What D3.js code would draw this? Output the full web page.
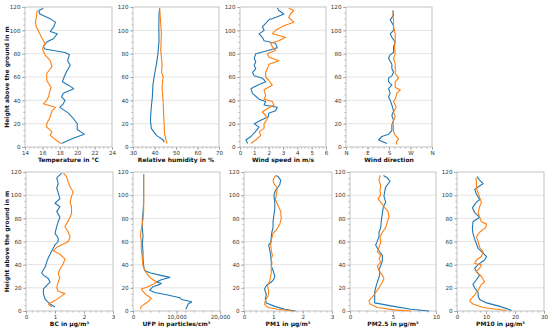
<!DOCTYPE html>
<html lang="en">
<head>
    <meta charset="UTF-8">
    <title>Vertical profiles</title>
    <script src="https://cdn.jsdelivr.net/npm/d3@7"></script>
    <style>
        body { margin: 0; background: #fff; }
        text { font-family: "DejaVu Sans", sans-serif; }
    </style>
</head>
<body>
<svg id="chart" width="550" height="333"></svg>
<script>
// each series: [height in m, value]
const tempA = [[3,18.2],[7,19.4],[11,20.8],[15,20.0],[20,20.0],[24,19.6],[29,19.0],[34,18.0],[37,18.4],[40,18.6],[43,18.2],[46,18.4],[50,19.6],[53,19.0],[56,18.3],[60,18.5],[65,18.8],[70,19.2],[74,18.9],[79,19.1],[81,18.6],[84,16.3],[86,16.1],[90,16.5],[93,17.3],[97,17.7],[99,16.9],[103,17.3],[107,17.5],[110,16.9],[114,15.7],[117,15.6],[119,16.1]];
const tempB = [[3,18.1],[7,17.4],[10,16.9],[13,17.1],[17,16.5],[20,16.5],[26,16.9],[31,17.1],[34,17.5],[37,16.1],[40,16.5],[43,16.7],[49,16.9],[51,17.0],[57,16.5],[63,16.5],[69,17.1],[74,16.9],[79,16.3],[84,16.0],[89,16.3],[94,15.9],[97,15.7],[103,15.3],[107,15.2],[111,15.3],[117,15.4]];

const rhA = [[4,44.5],[6,44.0],[10,40.9],[16,38.5],[23,38.1],[34,38.5],[43,39.0],[54,39.3],[63,40.1],[71,40.9],[80,41.6],[91,42.1],[103,42.0],[114,42.1],[119,42.4]];
const rhB = [[3,45.8],[11,44.7],[26,44.3],[40,44.0],[51,43.5],[60,44.0],[64,43.3],[71,43.5],[83,42.9],[97,43.2],[111,42.7],[119,42.4]];

const windA = [[3,0.53],[6,0.41],[9,0.76],[13,1.06],[17,1.33],[20,0.99],[23,1.45],[26,1.98],[29,2.0],[31,2.48],[34,2.6],[36,1.68],[39,1.79],[41,1.33],[46,0.87],[50,0.76],[53,1.22],[56,1.79],[59,1.56],[61,0.99],[64,0.87],[67,1.1],[70,0.99],[73,1.1],[76,0.99],[80,1.1],[83,2.02],[85,2.6],[89,2.48],[91,1.68],[94,1.56],[97,1.33],[100,1.68],[103,1.56],[106,1.79],[109,2.02],[111,2.48],[114,3.06],[117,2.71],[119,2.6]];
const windB = [[3,0.76],[6,1.1],[10,1.45],[13,1.33],[16,1.68],[20,1.68],[24,1.91],[27,1.79],[30,1.56],[33,1.91],[36,2.37],[39,2.25],[41,1.68],[44,1.79],[49,1.68],[53,2.25],[57,2.02],[60,1.79],[64,1.79],[67,1.91],[71,2.02],[74,2.71],[77,2.02],[80,1.91],[83,2.48],[86,2.25],[89,2.14],[91,2.71],[94,3.17],[97,2.25],[100,2.48],[104,3.06],[107,3.75],[111,3.4],[114,3.52],[117,3.75],[119,3.4]];

const dirA = [[3,171],[6,136],[9,150],[11,178],[14,192],[19,192],[23,199],[27,192],[31,199],[36,192],[40,185],[43,178],[46,185],[50,178],[53,192],[56,178],[59,178],[61,192],[64,199],[67,192],[71,192],[76,178],[79,185],[81,199],[86,199],[90,206],[94,192],[97,185],[100,199],[104,199],[109,185],[113,199],[117,196]];
const dirB = [[2,213],[4,210],[7,220],[10,206],[13,199],[17,199],[21,196],[26,206],[30,199],[34,210],[39,199],[41,206],[46,213],[49,227],[51,206],[56,206],[59,220],[63,206],[67,206],[71,206],[76,199],[80,206],[86,203],[91,206],[97,206],[103,199],[109,199],[113,196],[117,199]];

const bcA = [[3.5,1.0],[6,0.83],[10,0.66],[15,0.6],[19,0.6],[22,0.71],[25,0.83],[28,0.77],[31,0.6],[33,0.54],[38,0.66],[42,0.71],[46,0.77],[52,0.89],[57,1.0],[60,1.11],[63,1.11],[67,1.0],[73,1.06],[77,1.11],[81,1.17],[86,1.06],[90,1.17],[93,1.0],[97,1.17],[102,1.11],[106,1.06],[110,1.11],[115,1.06],[119,1.23]];
const bcB = [[3.5,0.89],[6,0.77],[9,1.0],[12,1.17],[15,1.34],[17,1.11],[20,1.06],[25,1.11],[29,1.17],[32,1.11],[36,1.17],[41,1.29],[45,1.34],[49,1.17],[52,0.94],[55,1.06],[60,1.46],[64,1.52],[68,1.46],[73,1.34],[78,1.46],[84,1.57],[90,1.57],[94,1.52],[99,1.57],[103,1.63],[107,1.52],[111,1.46],[116,1.4],[119,1.29]];

const ufpA = [[1.5,12150],[6,12700],[8,13500],[10,11150],[11.4,10800],[14,7700],[16,5000],[18,3850],[21,4600],[23,6150],[24,6500],[25,5400],[27,6500],[29,8450],[31,6150],[33,3850],[35,2700],[39,2450],[45,2300],[51,2300],[58,2150],[65,2300],[71,2150],[79,2150],[85,2300],[94,2450],[102,2450],[111,2450],[118,2450]];
const ufpB = [[1.5,1700],[4,1900],[8,3450],[11,4200],[14,3050],[17,2300],[19,1900],[21,3450],[23,4600],[25,5400],[28,4200],[31,3450],[35,2700],[39,2300],[45,2150],[54,1900],[60,1900],[66,1700],[70,1900],[79,2300],[87,2450],[96,2450],[104,2450],[111,2450],[118,2450]];

const pm1A = [[0,1.75],[1.5,1.39],[4,1.05],[7,0.76],[10,0.73],[14.5,0.76],[19,0.7],[22,0.76],[25,0.93],[27.5,1.02],[30,1.05],[35,0.99],[39,0.93],[43,0.93],[48,0.91],[52,0.88],[57,0.84],[59,0.91],[64,0.93],[68,0.95],[72,0.99],[77,0.99],[83,1.02],[88,1.05],[94,1.05],[100,1.02],[104,1.07],[109,1.22],[113,1.25],[116,1.16],[117,1.1]];
const pm1B = [[0,1.67],[1.5,1.16],[3,0.82],[6,0.7],[9,0.73],[13,0.82],[17,0.84],[22,0.8],[26,0.88],[30,0.91],[33,0.93],[38,0.93],[41,0.95],[45,0.93],[48,0.97],[52,0.93],[57,0.91],[61,0.93],[67,0.99],[70,1.1],[75,1.22],[80,1.27],[86,1.25],[91,1.16],[96,1.07],[100,1.1],[106,1.14],[110,1.02],[113,0.99],[116,1.05],[117,1.1]];

const pm25A = [[0,9.2],[1.5,7.05],[4,5.1],[7,2.87],[11.6,2.87],[16,2.87],[20,2.98],[25,3.18],[29,3.37],[33,3.49],[36,3.37],[39,3.57],[43,3.76],[48,3.76],[52,3.37],[57,2.98],[59,3.1],[64,3.37],[68,3.37],[72,3.57],[78,3.64],[84,3.76],[90,3.88],[94,4.15],[99,3.95],[103,4.03],[107,4.15],[112,4.65],[115,4.34],[117,3.88]];
const pm25B = [[0,7.05],[1,5.1],[3,3.18],[6,2.33],[9,2.2],[12,2.6],[16,2.98],[20,3.37],[25,3.76],[28,3.95],[31,3.76],[35,3.37],[39,3.18],[42,3.57],[45,3.37],[48,3.57],[51,3.18],[55,3.37],[59,3.57],[64,3.49],[68,3.76],[72,4.15],[77,4.34],[81,4.53],[86,4.42],[90,3.95],[94,3.57],[97,3.26],[100,3.57],[104,3.49],[108,3.57],[113,3.37],[117,3.49]];

const pm10A = [[0.5,18.8],[4,14.8],[7,10.2],[10,7.8],[13,7.3],[16,7.3],[20,6.1],[23,5.5],[27,6.7],[31,7.8],[34,6.7],[37,6.1],[40,7.3],[44,9.5],[47,10.2],[50,9.0],[54,7.3],[58,6.7],[62,6.1],[67,5.5],[71,5.3],[77,5.5],[81,7.8],[85,6.1],[89,5.3],[94,6.7],[96,7.8],[101,6.7],[105,6.1],[109,8.4],[110,9.0],[113,7.8],[116,6.9]];
const pm10B = [[0.5,17.1],[3,9.0],[6,5.5],[8.5,4.4],[11,5.0],[14,6.1],[18,7.3],[23,8.4],[25,9.5],[30,8.4],[34,6.7],[37,7.8],[40,8.4],[41,6.1],[44,6.7],[47,8.4],[51,9.0],[55,7.8],[60,7.3],[64,6.7],[68,7.8],[72,9.9],[75,10.2],[77,8.4],[81,7.8],[85,7.3],[90,7.8],[94,8.4],[98,7.8],[102,7.3],[106,6.7],[111,6.7],[115,6.5]];

const heightTicks = [0, 20, 40, 60, 80, 100, 120];
const dirTickLabels = ["N", "E", "S", "W", "N"];

const colorA = "#1f77b4";
const colorB = "#ff7f0e";

const rows = [
    { top: 7, bottom: 147 },
    { top: 172, bottom: 311 }
];

const panels = [
    { row: 0, left: 25, right: 112, a: tempA, b: tempB, domain: [14, 24], ticks: [14,16,18,20,22,24], minor: 0.5, label: "Temperature in °C" },
    { row: 0, left: 133, right: 219, a: rhA, b: rhB, domain: [30, 70], ticks: [30,40,50,60,70], minor: 2, label: "Relative humidity in %" },
    { row: 0, left: 240, right: 326, a: windA, b: windB, domain: [0, 6], ticks: [0,1,2,3,4,5,6], minor: 0.25, label: "Wind speed in m/s" },
    { row: 0, left: 346, right: 432, a: dirA, b: dirB, domain: [0, 360], ticks: [0,90,180,270,360], minor: 22.5, label: "Wind direction", names: dirTickLabels },
    { row: 1, left: 26, right: 113, a: bcA, b: bcB, domain: [0, 3], ticks: [0,1,2,3], minor: 0.2, label: "BC in µg/m³" },
    { row: 1, left: 133, right: 220, a: ufpA, b: ufpB, domain: [0, 20000], ticks: [0,10000,20000], minor: 2000, label: "UFP in particles/cm³", fmt: d3.format(",") },
    { row: 1, left: 244, right: 332, a: pm1A, b: pm1B, domain: [0, 3], ticks: [0,1,2,3], minor: 0.2, label: "PM1 in µg/m³" },
    { row: 1, left: 350, right: 436, a: pm25A, b: pm25B, domain: [0, 10], ticks: [0,5,10], minor: 1, label: "PM2.5 in µg/m³" },
    { row: 1, left: 457, right: 544, a: pm10A, b: pm10B, domain: [0, 30], ticks: [0,10,20,30], minor: 2, label: "PM10 in µg/m³" }
];

const svg = d3.select("#chart");

panels.forEach(function(p, i) {
    const r = rows[p.row];
    const x = d3.scaleLinear().domain(p.domain).range([p.left, p.right]);
    const y = d3.scaleLinear().domain([0, 120]).range([r.bottom, r.top]);
    const g = svg.append("g");

    // horizontal grid
    g.selectAll("line.grid")
        .data(heightTicks.slice(1, -1))
        .enter()
        .append("line")
        .attr("x1", p.left).attr("x2", p.right)
        .attr("y1", d => y(d)).attr("y2", d => y(d))
        .attr("stroke", "#dcdcdc").attr("stroke-width", 0.8);

    // x axis
    const minorX = d3.range(p.domain[0], p.domain[1] + 1e-9, p.minor);
    const xAxis = d3.axisBottom(x)
        .tickValues(p.ticks)
        .tickSize(3)
        .tickPadding(1.5)
        .tickFormat(function(d, k) {
            if (p.names) return p.names[k];
            return p.fmt ? p.fmt(d) : d;
        });
    g.append("g")
        .attr("transform", "translate(0," + r.bottom + ")")
        .call(d3.axisBottom(x).tickValues(minorX).tickSize(1.6).tickFormat(""))
        .call(s => s.select(".domain").remove());
    g.append("g")
        .attr("class", "xaxis")
        .attr("transform", "translate(0," + r.bottom + ")")
        .call(xAxis);

    // y axis
    const yAxis = d3.axisLeft(y).tickValues(heightTicks).tickSize(3).tickPadding(1.5);
    g.append("g")
        .attr("transform", "translate(" + p.left + ",0)")
        .call(d3.axisLeft(y).tickValues(d3.range(0, 121, 5)).tickSize(1.6).tickFormat(""))
        .call(s => s.select(".domain").remove());
    g.append("g")
        .attr("class", "yaxis")
        .attr("transform", "translate(" + p.left + ",0)")
        .call(yAxis);

    g.selectAll(".tick line").attr("stroke", "#888").attr("stroke-width", 0.6);
    g.selectAll(".domain").attr("stroke", "none");
    g.selectAll(".tick text").attr("fill", "#333").style("font-size", "5.6px");

    // frame
    g.append("rect")
        .attr("x", p.left).attr("y", r.top)
        .attr("width", p.right - p.left).attr("height", r.bottom - r.top)
        .attr("fill", "none").attr("stroke", "#b5b5b5").attr("stroke-width", 0.8);

    const line = d3.line().x(d => x(d[1])).y(d => y(d[0]));
    g.append("path").datum(p.a)
        .attr("d", line).attr("fill", "none")
        .attr("stroke", colorA).attr("stroke-width", 1.1).attr("stroke-linejoin", "round");
    g.append("path").datum(p.b)
        .attr("d", line).attr("fill", "none")
        .attr("stroke", colorB).attr("stroke-width", 1.1).attr("stroke-linejoin", "round");

    g.append("text")
        .attr("x", (p.left + p.right) / 2)
        .attr("y", r.bottom + 15)
        .attr("text-anchor", "middle")
        .style("font-size", "6px").style("font-weight", "bold")
        .attr("fill", "#111")
        .text(p.label);
});

rows.forEach(function(r) {
    svg.append("text")
        .attr("transform", "translate(9," + ((r.top + r.bottom) / 2) + ") rotate(-90)")
        .attr("text-anchor", "middle")
        .style("font-size", "6px").style("font-weight", "bold")
        .attr("fill", "#111")
        .text("Height above the ground in m");
});
</script>
</body>
</html>
